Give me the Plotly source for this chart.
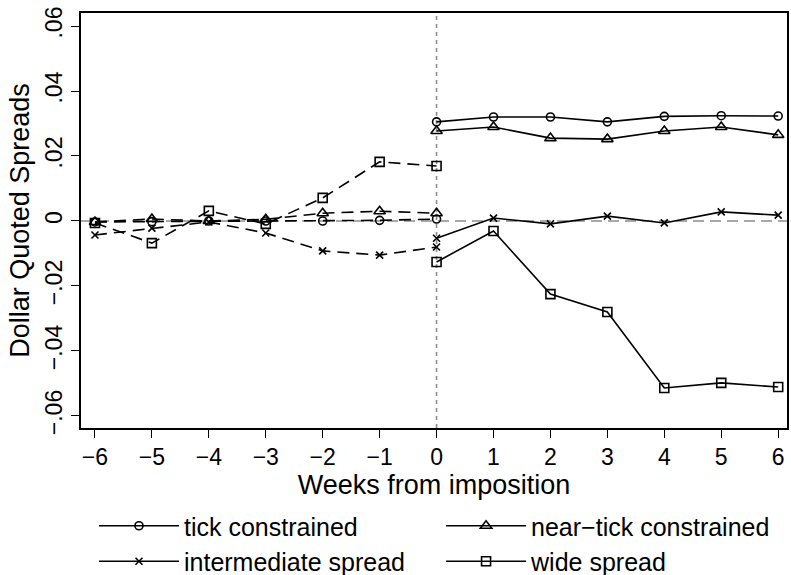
import plotly.graph_objects as go

weeks_pre = [-6, -5, -4, -3, -2, -1, 0]
weeks_post = [0, 1, 2, 3, 4, 5, 6]

tick_pre = [-0.0003, -0.0002, 0.0, 0.0, 0.0, 0.0002, 0.0006]
tick_post = [0.0305, 0.0320, 0.0320, 0.0305, 0.0322, 0.0324, 0.0323]

near_pre = [-0.0003, 0.0006, 0.0, 0.0005, 0.0024, 0.0030, 0.0024]
near_post = [0.0277, 0.0289, 0.0255, 0.0252, 0.0277, 0.0289, 0.0265]

inter_pre = [-0.0043, -0.0022, -0.0003, -0.0037, -0.0092, -0.0105, -0.0080]
inter_post = [-0.0053, 0.0009, -0.0009, 0.0015, -0.0006, 0.0028, 0.0018]

wide_pre = [-0.0006, -0.0068, 0.0031, -0.0009, 0.0071, 0.0182, 0.0169]
wide_post = [-0.0126, -0.0031, -0.0225, -0.0280, -0.0514, -0.0498, -0.0511]

names = ["tick constrained", "near\u2212tick constrained", "intermediate spread", "wide spread"]
symbols = ["circle-open", "triangle-up-open", "x-thin-open", "square-open"]
sizes = [8, 10, 7, 9]
legend_ids = ["legend", "legend2", "legend", "legend2"]

series = [
    (tick_pre, tick_post),
    (near_pre, near_post),
    (inter_pre, inter_post),
    (wide_pre, wide_post),
]

y_tickvals = [-0.06, -0.04, -0.02, 0, 0.02, 0.04, 0.06]
y_ticktext = ["\u2212.06", "\u2212.04", "\u2212.02", "0", ".02", ".04", ".06"]
x_tickvals = list(range(-6, 7))
x_ticktext = [("\u2212" + str(-v)) if v < 0 else str(v) for v in x_tickvals]

FONT = "Liberation Sans, Arial, sans-serif"

fig = go.Figure()

for (pre, post), nm, sym, sz in zip(series, names, symbols, sizes):
    fig.add_trace(go.Scatter(
        x=weeks_pre, y=pre, mode="lines+markers", name=nm, showlegend=False,
        line=dict(color="black", width=1.6, dash="12px,7px"),
        marker=dict(symbol=sym, size=sz, color="black", line=dict(width=1.6, color="black")),
    ))

for (pre, post), nm, sym, sz, lg in zip(series, names, symbols, sizes, legend_ids):
    fig.add_trace(go.Scatter(
        x=weeks_post, y=post, mode="lines+markers", name=nm, showlegend=True,
        legend=lg,
        line=dict(color="black", width=1.6),
        marker=dict(symbol=sym, size=sz, color="black", line=dict(width=1.6, color="black")),
    ))

fig.add_shape(type="line", xref="paper", yref="y", x0=0, x1=1, y0=0, y1=0,
              line=dict(color="#8c8c8c", width=1.6, dash="11px,6px"), layer="below")
fig.add_shape(type="line", xref="x", yref="paper", x0=0, x1=0, y0=0, y1=1,
              line=dict(color="#8c8c8c", width=1.6, dash="4px,4px"), layer="below")

legend_common = dict(
    orientation="v", xanchor="left", yref="container", y=0.1252, yanchor="top",
    itemwidth=80, font=dict(size=25), bgcolor="rgba(0,0,0,0)",
)

fig.update_layout(
    width=791, height=575,
    margin=dict(l=81, r=2, t=13, b=147),
    paper_bgcolor="white", plot_bgcolor="white",
    font=dict(family=FONT, size=23, color="black"),
    xaxis=dict(
        range=[-6.245, 6.155], tickvals=x_tickvals, ticktext=x_ticktext,
        showgrid=False, zeroline=False, showline=True, linecolor="black", linewidth=1.6,
        mirror=True, ticks="outside", ticklen=8, tickwidth=1.4, tickcolor="black",
        title=dict(text="Weeks from imposition", standoff=4, font=dict(size=27)),
        tickfont=dict(size=23),
    ),
    yaxis=dict(
        range=[-0.0637, 0.064], tickvals=y_tickvals, ticktext=y_ticktext,
        tickangle=-90,
        showgrid=False, zeroline=False, showline=True, linecolor="black", linewidth=1.6,
        mirror=True, ticks="outside", ticklen=8, tickwidth=1.4, tickcolor="black",
        title=dict(text="Dollar Quoted Spreads", standoff=4, font=dict(size=27)),
        tickfont=dict(size=23),
    ),
    legend=dict(x=0.0184, **legend_common),
    legend2=dict(x=0.51, **legend_common),
)

fig.write_html("out.html")
